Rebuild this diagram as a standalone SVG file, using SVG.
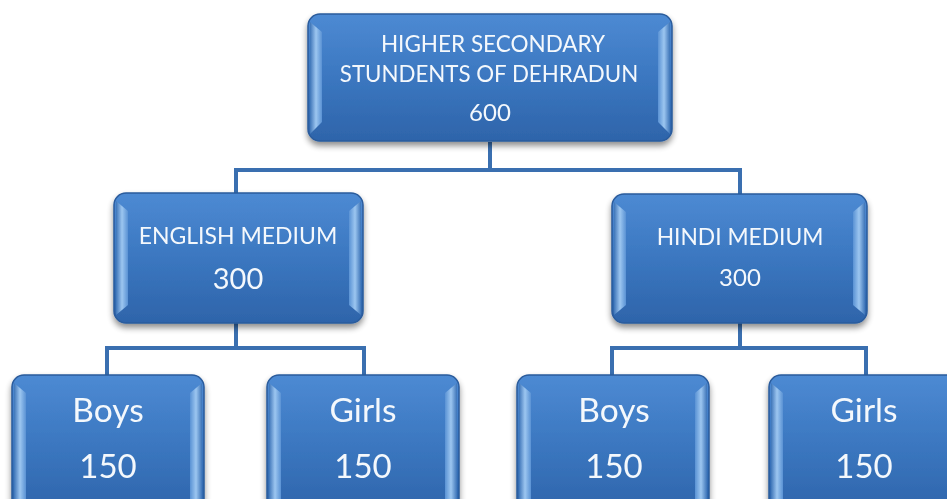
<svg xmlns="http://www.w3.org/2000/svg" width="947" height="499" viewBox="0 0 947 499">
<defs>
<linearGradient id="body" x1="0" y1="0" x2="0" y2="1">
<stop offset="0" stop-color="#4d8ad3"/>
<stop offset="0.5" stop-color="#3b77c0"/>
<stop offset="1" stop-color="#2e64aa"/>
</linearGradient>
<linearGradient id="edgeL" x1="0" y1="0" x2="1" y2="0">
<stop offset="0" stop-color="#3d74b8"/>
<stop offset="0.5" stop-color="#9cc6f0"/>
<stop offset="1" stop-color="#5a92d4"/>
</linearGradient>
<linearGradient id="edgeR" x1="1" y1="0" x2="0" y2="0">
<stop offset="0" stop-color="#3d74b8"/>
<stop offset="0.5" stop-color="#9cc6f0"/>
<stop offset="1" stop-color="#5a92d4"/>
</linearGradient>
<filter id="sh" x="-10%" y="-10%" width="120%" height="130%">
<feGaussianBlur in="SourceAlpha" stdDeviation="3"/>
<feOffset dx="0" dy="4" result="b"/>
<feComponentTransfer><feFuncA type="linear" slope="0.45"/></feComponentTransfer>
<feMerge><feMergeNode/><feMergeNode in="SourceGraphic"/></feMerge>
</filter>
</defs>
<style>
.box{fill:url(#body);stroke:#2a5b9c;stroke-width:1.5}
.el{fill:url(#edgeL)}
.er{fill:url(#edgeR)}
.t{fill:#f4f8fc;font-family:Lato,"Open Sans",sans-serif;text-anchor:middle}
.conn{fill:none;stroke:#3a6fb0;stroke-width:4}
</style>
<g id="connectors">
<path class="conn" d="M490 142 V170 M236 170 H740 M236 168 V195 M740 168 V195"/>
<path class="conn" d="M236 323 V348 M107 348 H364 M107 346 V376 M364 346 V376"/>
<path class="conn" d="M740 323 V348 M612 348 H866 M612 346 V376 M866 346 V376"/>
</g>
<g id="n-root" filter="url(#sh)">
<rect class="box" x="308" y="14" width="364" height="127" rx="12"/>
<polygon class="el" points="310,22 322,32 322,122 310,134"/>
<polygon class="er" points="670,22 658,32 658,122 670,134"/>
<text class="t" x="493" y="52" font-size="22.5">HIGHER SECONDARY</text>
<text class="t" x="489" y="82" font-size="22.3">STUNDENTS OF DEHRADUN</text>
<text class="t" x="490" y="121" font-size="24">600</text>
</g>
<g id="n-english" filter="url(#sh)">
<rect class="box" x="114" y="193" width="249" height="130" rx="12"/>
<polygon class="el" points="116,201 128,211 128,305 116,315"/>
<polygon class="er" points="361,201 349,211 349,305 361,315"/>
<text class="t" x="238" y="244" font-size="23">ENGLISH MEDIUM</text>
<text class="t" x="238" y="289" font-size="29">300</text>
</g>
<g id="n-hindi" filter="url(#sh)">
<rect class="box" x="612" y="194" width="255" height="129" rx="12"/>
<polygon class="el" points="614,202 626,212 626,305 614,315"/>
<polygon class="er" points="865,202 853,212 853,305 865,315"/>
<text class="t" x="740" y="245" font-size="22.8">HINDI MEDIUM</text>
<text class="t" x="740" y="286" font-size="24">300</text>
</g>
<g id="n-eboys" filter="url(#sh)">
<rect class="box" x="12" y="375" width="192" height="140" rx="12"/>
<polygon class="el" points="14,383 26,393 26,499 14,499"/>
<polygon class="er" points="202,383 190,393 190,499 202,499"/>
<text class="t" x="108" y="422" font-size="33.5">Boys</text>
<text class="t" x="108" y="478" font-size="33">150</text>
</g>
<g id="n-egirls" filter="url(#sh)">
<rect class="box" x="267" y="375" width="192" height="140" rx="12"/>
<polygon class="el" points="269,383 281,393 281,499 269,499"/>
<polygon class="er" points="457,383 445,393 445,499 457,499"/>
<text class="t" x="363" y="422" font-size="33.5">Girls</text>
<text class="t" x="363" y="478" font-size="33">150</text>
</g>
<g id="n-hboys" filter="url(#sh)">
<rect class="box" x="517" y="375" width="192" height="140" rx="12"/>
<polygon class="el" points="519,383 531,393 531,499 519,499"/>
<polygon class="er" points="707,383 695,393 695,499 707,499"/>
<text class="t" x="614" y="422" font-size="33.5">Boys</text>
<text class="t" x="614" y="478" font-size="33">150</text>
</g>
<g id="n-hgirls" filter="url(#sh)">
<rect class="box" x="769" y="375" width="192" height="140" rx="12"/>
<polygon class="el" points="771,383 783,393 783,499 771,499"/>
<polygon class="er" points="959,383 947,393 947,499 959,499"/>
<text class="t" x="864" y="422" font-size="33.5">Girls</text>
<text class="t" x="864" y="478" font-size="33">150</text>
</g>
</svg>
